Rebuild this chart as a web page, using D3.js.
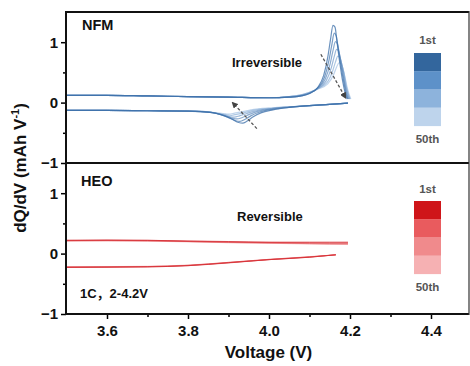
<!DOCTYPE html>
<html><head><meta charset="utf-8">
<script src="https://cdn.jsdelivr.net/npm/d3@7"></script>
<style>
body{margin:0;background:#fff}
text{font-family:"Liberation Sans",Arial,"Noto Sans CJK SC",sans-serif;font-weight:bold}
</style>
</head><body>
<svg id="c" width="470" height="366"></svg>
<script>
// ---------- data ----------
const xTicks = [3.6, 3.8, 4.0, 4.2, 4.4];
const xMinor = [3.7, 3.9, 4.1, 4.3];
const yTicks = [-1, 0, 1];
const yMinor = [-0.5, 0.5];
const legendLabels = ["1st", "50th"];
const nfmCycles = [1, 10, 20, 30, 40, 50];
const heoCycles = [1, 10, 20, 35, 50];

// NFM charge (upper branch)
const nfmChargeV = [
  [3.50,3.60,3.70,3.80,3.90,4.00,4.05,4.08,4.10,4.12,4.135,4.145,4.152,4.158,4.163,4.168,4.175,4.182,4.188,4.193],
  [3.50,3.60,3.70,3.80,3.90,4.00,4.05,4.08,4.10,4.12,4.137,4.148,4.155,4.161,4.166,4.171,4.178,4.185,4.190,4.195],
  [3.50,3.60,3.70,3.80,3.90,4.00,4.05,4.08,4.10,4.12,4.139,4.151,4.158,4.164,4.169,4.174,4.181,4.187,4.192,4.197],
  [3.50,3.60,3.70,3.80,3.90,4.00,4.05,4.08,4.10,4.12,4.141,4.154,4.161,4.167,4.172,4.177,4.184,4.189,4.194,4.199],
  [3.50,3.60,3.70,3.80,3.90,4.00,4.05,4.08,4.10,4.12,4.143,4.157,4.164,4.170,4.175,4.180,4.186,4.191,4.196,4.200],
  [3.50,3.60,3.70,3.80,3.90,4.00,4.05,4.08,4.10,4.12,4.145,4.160,4.167,4.173,4.178,4.183,4.188,4.193,4.198,4.202]
];
const nfmChargeQ = [
  [0.12,0.12,0.11,0.10,0.09,0.08,0.09,0.11,0.15,0.25,0.45,0.75,1.05,1.28,1.25,1.00,0.65,0.35,0.16,0.06],
  [0.12,0.12,0.11,0.10,0.09,0.08,0.09,0.11,0.15,0.24,0.42,0.70,0.95,1.15,1.10,0.90,0.60,0.33,0.16,0.06],
  [0.12,0.12,0.11,0.10,0.09,0.08,0.09,0.12,0.16,0.24,0.39,0.64,0.86,1.01,0.97,0.80,0.55,0.31,0.15,0.06],
  [0.12,0.12,0.11,0.10,0.09,0.08,0.10,0.12,0.16,0.23,0.36,0.58,0.76,0.88,0.85,0.71,0.50,0.29,0.15,0.06],
  [0.12,0.12,0.11,0.10,0.09,0.08,0.10,0.13,0.17,0.23,0.33,0.52,0.67,0.77,0.74,0.63,0.46,0.27,0.14,0.06],
  [0.12,0.12,0.11,0.10,0.09,0.08,0.10,0.13,0.17,0.22,0.31,0.47,0.59,0.66,0.64,0.55,0.41,0.25,0.13,0.06]
];
// NFM discharge (lower branch)
const nfmDischargeV = [
  [4.195,4.15,4.10,4.05,4.01,3.98,3.96,3.945,3.935,3.925,3.91,3.89,3.87,3.84,3.80,3.70,3.60,3.50],
  [4.195,4.15,4.10,4.05,4.01,3.975,3.955,3.94,3.928,3.918,3.905,3.885,3.865,3.835,3.80,3.70,3.60,3.50],
  [4.195,4.15,4.10,4.05,4.01,3.97,3.95,3.933,3.921,3.911,3.898,3.878,3.86,3.83,3.80,3.70,3.60,3.50],
  [4.195,4.15,4.10,4.05,4.01,3.965,3.945,3.927,3.914,3.904,3.891,3.872,3.855,3.83,3.80,3.70,3.60,3.50],
  [4.195,4.15,4.10,4.05,4.01,3.96,3.94,3.92,3.907,3.897,3.884,3.866,3.85,3.83,3.80,3.70,3.60,3.50],
  [4.195,4.15,4.10,4.05,4.01,3.955,3.935,3.915,3.90,3.89,3.878,3.86,3.845,3.825,3.80,3.70,3.60,3.50]
];
const nfmDischargeQ = [
  [-0.01,-0.03,-0.05,-0.08,-0.12,-0.17,-0.24,-0.31,-0.34,-0.33,-0.28,-0.22,-0.18,-0.155,-0.14,-0.135,-0.13,-0.13],
  [-0.01,-0.03,-0.05,-0.08,-0.11,-0.16,-0.22,-0.28,-0.31,-0.30,-0.26,-0.21,-0.17,-0.15,-0.14,-0.135,-0.13,-0.13],
  [-0.01,-0.03,-0.05,-0.075,-0.10,-0.15,-0.20,-0.25,-0.27,-0.26,-0.23,-0.19,-0.165,-0.15,-0.14,-0.135,-0.13,-0.13],
  [-0.01,-0.03,-0.05,-0.07,-0.095,-0.14,-0.18,-0.22,-0.24,-0.235,-0.21,-0.18,-0.16,-0.145,-0.14,-0.135,-0.13,-0.13],
  [-0.01,-0.03,-0.05,-0.07,-0.09,-0.13,-0.165,-0.195,-0.21,-0.205,-0.19,-0.17,-0.155,-0.145,-0.14,-0.135,-0.13,-0.13],
  [-0.01,-0.03,-0.05,-0.07,-0.085,-0.12,-0.15,-0.175,-0.19,-0.185,-0.175,-0.16,-0.15,-0.142,-0.14,-0.135,-0.13,-0.13]
];

// HEO
const heoChargeV = [3.50,3.60,3.70,3.80,3.90,4.00,4.10,4.15,4.195];
const heoChargeQ = [
  [0.22,0.225,0.22,0.21,0.20,0.19,0.19,0.19,0.19],
  [0.22,0.22,0.22,0.205,0.195,0.185,0.18,0.18,0.18],
  [0.215,0.22,0.215,0.20,0.19,0.18,0.175,0.17,0.17],
  [0.21,0.215,0.21,0.20,0.185,0.175,0.165,0.16,0.16],
  [0.21,0.21,0.205,0.195,0.18,0.17,0.16,0.155,0.15]
];
const heoDischargeV = [4.165,4.10,4.00,3.90,3.80,3.70,3.60,3.50];
const heoDischargeQ = [
  [-0.02,-0.06,-0.10,-0.15,-0.20,-0.22,-0.225,-0.23],
  [-0.02,-0.06,-0.10,-0.155,-0.20,-0.22,-0.225,-0.225],
  [-0.02,-0.055,-0.10,-0.15,-0.195,-0.215,-0.22,-0.225],
  [-0.02,-0.055,-0.095,-0.145,-0.195,-0.215,-0.22,-0.22],
  [-0.02,-0.05,-0.095,-0.145,-0.19,-0.21,-0.215,-0.22]
];

// arrows (annotation endpoints in data units)
const nfmChargeArrow = [[4.128, 0.80], [4.189, 0.08]];
const nfmDischargeArrow = [[3.970, -0.43], [3.910, 0.00]];

const blueSwatches = ["#33669d", "#5d91c9", "#8db3dc", "#bed4ec"];
const redSwatches = ["#cf1519", "#e95b5e", "#f08a8c", "#f6b1b3"];

// ---------- drawing ----------
const svg = d3.select("#c");
const x = d3.scaleLinear().domain([3.5, 4.5]).range([66.5, 471.5]);
const yTop = d3.scaleLinear().domain([-1, 1.5]).range([163, 12]);
const yBot = d3.scaleLinear().domain([-1, 1.5]).range([314, 163]);

const defs = svg.append("defs");
defs.append("marker").attr("id", "ah").attr("viewBox", "0 0 10 10")
  .attr("refX", 8).attr("refY", 5).attr("markerWidth", 5).attr("markerHeight", 5)
  .attr("orient", "auto")
  .append("path").attr("d", "M0,0 L10,5 L0,10 Z").attr("fill", "#444");

const clipTop = defs.append("clipPath").attr("id", "clipTop");
clipTop.append("rect").attr("x", 66).attr("y", 12).attr("width", 403).attr("height", 151);
const clipBot = defs.append("clipPath").attr("id", "clipBot");
clipBot.append("rect").attr("x", 66).attr("y", 163).attr("width", 403).attr("height", 151);

function pts(V, Q) {
  return V.map((v, i) => [v, Q[i]]).sort((a, b) => a[0] - b[0]);
}

const blueColor = d3.scaleLinear().domain([1, 50]).range(["#3a6ea8", "#a9c6e6"]);
const redColor = d3.scaleLinear().domain([1, 50]).range(["#d4272c", "#f08a8e"]);

// NFM curves
const gTop = svg.append("g").attr("clip-path", "url(#clipTop)");
const lineTop = d3.line().x(d => x(d[0])).y(d => yTop(d[1])).curve(d3.curveMonotoneX);
for (let i = nfmCycles.length - 1; i >= 0; i--) {
  const col = blueColor(nfmCycles[i]);
  gTop.append("path").attr("d", lineTop(pts(nfmChargeV[i], nfmChargeQ[i])))
    .attr("fill", "none").attr("stroke", col).attr("stroke-width", 1.2).attr("stroke-opacity", 0.75);
  gTop.append("path").attr("d", lineTop(pts(nfmDischargeV[i], nfmDischargeQ[i])))
    .attr("fill", "none").attr("stroke", col).attr("stroke-width", 1.2).attr("stroke-opacity", 0.75);
}

// HEO curves
const gBot = svg.append("g").attr("clip-path", "url(#clipBot)");
const lineBot = d3.line().x(d => x(d[0])).y(d => yBot(d[1])).curve(d3.curveMonotoneX);
for (let i = heoCycles.length - 1; i >= 0; i--) {
  const col = redColor(heoCycles[i]);
  gBot.append("path").attr("d", lineBot(pts(heoChargeV, heoChargeQ[i])))
    .attr("fill", "none").attr("stroke", col).attr("stroke-width", 0.9).attr("stroke-opacity", 0.75);
  gBot.append("path").attr("d", lineBot(pts(heoDischargeV, heoDischargeQ[i])))
    .attr("fill", "none").attr("stroke", col).attr("stroke-width", 0.9).attr("stroke-opacity", 0.75);
}

// arrows
[nfmChargeArrow, nfmDischargeArrow].forEach(a => {
  svg.append("line")
    .attr("x1", x(a[0][0])).attr("y1", yTop(a[0][1]))
    .attr("x2", x(a[1][0])).attr("y2", yTop(a[1][1]))
    .attr("stroke", "#555").attr("stroke-width", 1.3).attr("stroke-dasharray", "3,2")
    .attr("marker-end", "url(#ah)");
});

// axes
const tickCol = "#000";
function yAxis(y) {
  const g = svg.append("g").attr("transform", "translate(66,0)");
  g.append("g").call(d3.axisLeft(y).tickValues(yTicks).tickSize(5).tickPadding(3).tickFormat(d3.format("d")))
    .call(s => s.select(".domain").remove())
    .call(s => s.selectAll("line").attr("stroke", tickCol).attr("stroke-width", 1.5))
    .call(s => s.selectAll("text").attr("font-size", 15).attr("fill", "#111")
      .style("font-family", '"Liberation Sans",Arial,sans-serif').style("font-weight", "bold"));
  g.append("g").call(d3.axisLeft(y).tickValues(yMinor).tickSize(3).tickFormat(""))
    .call(s => s.select(".domain").remove())
    .call(s => s.selectAll("line").attr("stroke", tickCol).attr("stroke-width", 1.5));
}
yAxis(yTop);
yAxis(yBot);

const gx = svg.append("g").attr("transform", "translate(0,314)");
gx.append("g").call(d3.axisBottom(x).tickValues(xTicks).tickSize(5).tickPadding(6).tickFormat(d3.format(".1f")))
  .call(s => s.select(".domain").remove())
  .call(s => s.selectAll("line").attr("stroke", tickCol).attr("stroke-width", 1.5))
  .call(s => s.selectAll("text").attr("font-size", 15).attr("fill", "#111")
    .style("font-family", '"Liberation Sans",Arial,sans-serif').style("font-weight", "bold"));
gx.append("g").call(d3.axisBottom(x).tickValues(xMinor).tickSize(3).tickFormat(""))
  .call(s => s.select(".domain").remove())
  .call(s => s.selectAll("line").attr("stroke", tickCol).attr("stroke-width", 1.5));

// frame
svg.append("line").attr("x1", 65).attr("x2", 469).attr("y1", 12).attr("y2", 12).attr("stroke", "#111").attr("stroke-width", 2);
svg.append("line").attr("x1", 65).attr("x2", 469).attr("y1", 163).attr("y2", 163).attr("stroke", "#111").attr("stroke-width", 2);
svg.append("line").attr("x1", 65).attr("x2", 469).attr("y1", 314).attr("y2", 314).attr("stroke", "#111").attr("stroke-width", 2);
svg.append("line").attr("x1", 66).attr("x2", 66).attr("y1", 11).attr("y2", 315).attr("stroke", "#111").attr("stroke-width", 2);
svg.append("line").attr("x1", 469).attr("x2", 469).attr("y1", 11).attr("y2", 315).attr("stroke", "#333").attr("stroke-width", 1.2);

// legends
function legend(colors, y0, lab1y, lab2y) {
  const h = 18.2;
  colors.forEach((c, i) => {
    svg.append("rect").attr("x", 414).attr("y", y0 + i * h).attr("width", 27).attr("height", h + 0.3).attr("fill", c);
  });
  svg.append("text").attr("x", 427.5).attr("y", lab1y).attr("text-anchor", "middle").attr("font-size", 11.5).attr("fill", "#555").text(legendLabels[0]);
  svg.append("text").attr("x", 427.5).attr("y", lab2y).attr("text-anchor", "middle").attr("font-size", 11.5).attr("fill", "#555").text(legendLabels[1]);
}
legend(blueSwatches, 53, 44, 143);
legend(redSwatches, 201, 193, 291);

// labels
svg.append("text").attr("x", 82).attr("y", 30).attr("font-size", 14.5).attr("fill", "#111").text("NFM");
svg.append("text").attr("x", 81).attr("y", 186).attr("font-size", 14.5).attr("fill", "#111").text("HEO");
svg.append("text").attr("x", 232).attr("y", 67).attr("font-size", 13).attr("fill", "#111").text("Irreversible");
svg.append("text").attr("x", 237).attr("y", 221).attr("font-size", 13).attr("fill", "#111").text("Reversible");
svg.append("text").attr("x", 80).attr("y", 298).attr("font-size", 13).attr("fill", "#111").text("1C，2-4.2V");
svg.append("text").attr("x", 268.5).attr("y", 358).attr("text-anchor", "middle").attr("font-size", 17).attr("fill", "#111").text("Voltage (V)");

const yl = svg.append("text").attr("transform", "translate(26,168) rotate(-90)").attr("text-anchor", "middle")
  .attr("font-size", 17).attr("fill", "#111");
yl.append("tspan").text("dQ/dV (mAh V");
yl.append("tspan").attr("font-size", 11).attr("dy", -7).text("-1");
yl.append("tspan").attr("dy", 7).text(")");
</script>
</body></html>
